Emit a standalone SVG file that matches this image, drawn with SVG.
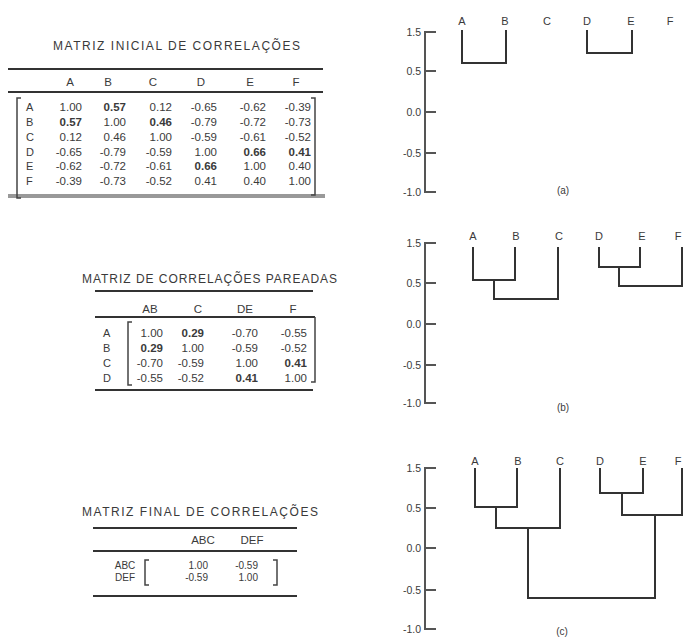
<svg xmlns="http://www.w3.org/2000/svg" width="683" height="638" viewBox="0 0 683 638">
<style>
text{font-family:"Liberation Sans",Arial,sans-serif;fill:#3a3a3a}
.t{font-size:12px}
.h{font-size:11.5px;text-anchor:middle}
.v{font-size:11.5px;text-anchor:end}
.fv{font-size:10px;text-anchor:end}
.b{font-weight:bold}
.rl{font-size:11px}
.ax{font-size:10.5px;text-anchor:end}
.lf{font-size:11px;text-anchor:middle}
.cap{font-size:10px;text-anchor:middle}
.rule{stroke:#333;stroke-width:2;fill:none}
.br{stroke:#444;stroke-width:1.5;fill:none}
.axis{stroke:#555;stroke-width:2;fill:none}
.den{stroke:#333;stroke-width:2;fill:none}
</style>
<rect width="683" height="638" fill="#fff"/>

<g id="matriz-inicial">
<text class="t" x="53" y="50" textLength="247" lengthAdjust="spacing">MATRIZ INICIAL DE CORRELAÇÕES</text>
<line class="rule" x1="8" y1="69" x2="323" y2="69"/>
<line class="rule" x1="8" y1="92" x2="323" y2="92"/>
<line x1="8" y1="196" x2="325" y2="196" stroke="#999" stroke-width="4"/>
<g>
<text class="h" x="70" y="86">A</text><text class="h" x="108" y="86">B</text><text class="h" x="153" y="86">C</text><text class="h" x="201" y="86">D</text><text class="h" x="250" y="86">E</text><text class="h" x="296" y="86">F</text>
</g>
<path class="br" d="M21,98 H17 V198 H21"/>
<path class="br" d="M311,98 H315 V195 H311"/>
<g class="rl">
<text x="26" y="111">A</text><text x="26" y="126">B</text><text x="26" y="141">C</text><text x="26" y="156">D</text><text x="26" y="170">E</text><text x="26" y="185">F</text>
</g>
<text class="v" x="82" y="111">1.00</text><text class="v b" x="126" y="111">0.57</text><text class="v" x="172" y="111">0.12</text><text class="v" x="217" y="111">-0.65</text><text class="v" x="266" y="111">-0.62</text><text class="v" x="311" y="111">-0.39</text>
<text class="v b" x="82" y="126">0.57</text><text class="v" x="126" y="126">1.00</text><text class="v b" x="172" y="126">0.46</text><text class="v" x="217" y="126">-0.79</text><text class="v" x="266" y="126">-0.72</text><text class="v" x="311" y="126">-0.73</text>
<text class="v" x="82" y="141">0.12</text><text class="v" x="126" y="141">0.46</text><text class="v" x="172" y="141">1.00</text><text class="v" x="217" y="141">-0.59</text><text class="v" x="266" y="141">-0.61</text><text class="v" x="311" y="141">-0.52</text>
<text class="v" x="82" y="156">-0.65</text><text class="v" x="126" y="156">-0.79</text><text class="v" x="172" y="156">-0.59</text><text class="v" x="217" y="156">1.00</text><text class="v b" x="266" y="156">0.66</text><text class="v b" x="311" y="156">0.41</text>
<text class="v" x="82" y="170">-0.62</text><text class="v" x="126" y="170">-0.72</text><text class="v" x="172" y="170">-0.61</text><text class="v b" x="217" y="170">0.66</text><text class="v" x="266" y="170">1.00</text><text class="v" x="311" y="170">0.40</text>
<text class="v" x="82" y="185">-0.39</text><text class="v" x="126" y="185">-0.73</text><text class="v" x="172" y="185">-0.52</text><text class="v" x="217" y="185">0.41</text><text class="v" x="266" y="185">0.40</text><text class="v" x="311" y="185">1.00</text>
</g>

<g id="matriz-pareadas">
<text class="t" x="82" y="283" textLength="255" lengthAdjust="spacing">MATRIZ DE CORRELAÇÕES PAREADAS</text>
<line class="rule" x1="95" y1="291" x2="313" y2="291"/>
<text class="h" x="150" y="313">AB</text><text class="h" x="198" y="313">C</text><text class="h" x="245" y="313">DE</text><text class="h" x="293" y="313">F</text>
<line class="rule" x1="95" y1="317" x2="315" y2="317" stroke-width="2.5"/>
<path class="br" d="M315,317 V382 H311"/>
<path class="br" d="M132,322 H128 V385 H132"/>
<g class="rl">
<text x="103" y="337">A</text><text x="103" y="352">B</text><text x="103" y="367">C</text><text x="103" y="382">D</text>
</g>
<text class="v" x="163" y="337">1.00</text><text class="v b" x="204" y="337">0.29</text><text class="v" x="258" y="337">-0.70</text><text class="v" x="307" y="337">-0.55</text>
<text class="v b" x="163" y="352">0.29</text><text class="v" x="204" y="352">1.00</text><text class="v" x="258" y="352">-0.59</text><text class="v" x="307" y="352">-0.52</text>
<text class="v" x="163" y="367">-0.70</text><text class="v" x="204" y="367">-0.59</text><text class="v" x="258" y="367">1.00</text><text class="v b" x="307" y="367">0.41</text>
<text class="v" x="163" y="382">-0.55</text><text class="v" x="204" y="382">-0.52</text><text class="v b" x="258" y="382">0.41</text><text class="v" x="307" y="382">1.00</text>
<line class="rule" x1="95" y1="390" x2="313" y2="390" stroke-width="2.5"/>
</g>

<g id="matriz-final">
<text class="t" x="82" y="516" textLength="236" lengthAdjust="spacing">MATRIZ FINAL DE CORRELAÇÕES</text>
<line class="rule" x1="93" y1="528" x2="297" y2="528"/>
<text class="h" x="203" y="544">ABC</text><text class="h" x="252" y="544">DEF</text>
<line class="rule" x1="93" y1="551" x2="297" y2="551"/>
<text x="125" y="569" font-size="10" text-anchor="middle">ABC</text>
<text x="125" y="581" font-size="10" text-anchor="middle">DEF</text>
<path class="br" d="M149,560 H145 V585 H149"/>
<path class="br" d="M273,560 H277 V585 H273"/>
<text class="fv" x="208" y="569">1.00</text><text class="fv" x="258" y="569">-0.59</text>
<text class="fv" x="208" y="581">-0.59</text><text class="fv" x="258" y="581">1.00</text>
<line class="rule" x1="93" y1="596" x2="297" y2="596"/>
</g>

<g id="grafico-a">
<path class="axis" d="M436,32 H425 V192 H436 M425,71 H436 M425,112 H436 M425,153 H436"/>
<text class="ax" x="421" y="36">1.5</text><text class="ax" x="421" y="75">0.5</text><text class="ax" x="421" y="116">0.0</text><text class="ax" x="421" y="157">-0.5</text><text class="ax" x="421" y="196">-1.0</text>
<g id="a-folhas">
<text class="lf" x="462" y="25">A</text><text class="lf" x="505" y="25">B</text><text class="lf" x="547" y="25">C</text><text class="lf" x="587" y="25">D</text><text class="lf" x="631" y="25">E</text><text class="lf" x="670" y="25">F</text>
</g>
<text class="cap" x="563" y="194">(a)</text>
</g>

<g id="grafico-b">
<path class="axis" d="M436,243 H425 V403 H436 M425,283 H436 M425,324 H436 M425,365 H436"/>
<text class="ax" x="421" y="247">1.5</text><text class="ax" x="421" y="287">0.5</text><text class="ax" x="421" y="328">0.0</text><text class="ax" x="421" y="369">-0.5</text><text class="ax" x="421" y="407">-1.0</text>
<g id="b-folhas">
<text class="lf" x="473" y="240">A</text><text class="lf" x="516" y="240">B</text><text class="lf" x="559" y="240">C</text><text class="lf" x="599" y="240">D</text><text class="lf" x="642" y="240">E</text><text class="lf" x="678" y="240">F</text>
</g>
<text class="cap" x="563" y="411">(b)</text>
</g>

<g id="grafico-c">
<path class="axis" d="M436,468 H425 V629 H436 M425,508 H436 M425,548 H436 M425,590 H436"/>
<text class="ax" x="421" y="472">1.5</text><text class="ax" x="421" y="512">0.5</text><text class="ax" x="421" y="552">0.0</text><text class="ax" x="421" y="594">-0.5</text><text class="ax" x="421" y="633">-1.0</text>
<g id="c-folhas">
<text class="lf" x="475" y="465">A</text><text class="lf" x="518" y="465">B</text><text class="lf" x="560" y="465">C</text><text class="lf" x="600" y="465">D</text><text class="lf" x="643" y="465">E</text><text class="lf" x="678" y="465">F</text>
</g>
<text class="cap" x="562" y="635">(c)</text>
</g>

<g id="conectores">
<path class="den" d="M462,30 V63 H506 V30"/>
<path class="den" d="M587,30 V53 H632 V30"/>
<path class="den" d="M473,247 V280 H515 V247"/>
<path class="den" d="M494,280 V299 H558 V247"/>
<path class="den" d="M599,247 V267 H640 V247"/>
<path class="den" d="M619,267 V286 H682 V247"/>
<path class="den" d="M475,468 V507 H517 V468"/>
<path class="den" d="M496,507 V528 H560 V468"/>
<path class="den" d="M600,468 V493 H643 V468"/>
<path class="den" d="M622,493 V515 H682 V468"/>
<path class="den" d="M528,528 V598 H655 V515"/>
</g>
</svg>
